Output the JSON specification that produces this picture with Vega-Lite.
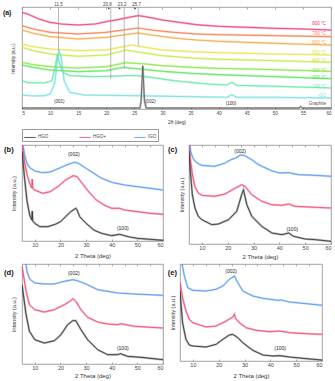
{
"$schema": "https://vega.github.io/schema/vega-lite/v6.json",
"padding": {"left": 2, "top": 1, "right": 1, "bottom": 1},
"columns": 1,
"align": "none",
"spacing": 3,
"resolve": {"scale": {"color": "independent"}, "legend": {"color": "independent"}},
"datasets": {
"a": [
{"s":"800","x":5,"y":96.5},{"s":"800","x":6,"y":95},{"s":"800","x":8,"y":90},{"s":"800","x":10,"y":86.7},{"s":"800","x":12,"y":85},{"s":"800","x":15,"y":84},{"s":"800","x":18,"y":85},{"s":"800","x":20,"y":87.3},{"s":"800","x":22,"y":89.3},{"s":"800","x":24,"y":91.7},{"s":"800","x":25.7,"y":93.3},{"s":"800","x":27,"y":92.3},{"s":"800","x":30,"y":89},{"s":"800","x":33,"y":86.7},{"s":"800","x":36,"y":84.3},{"s":"800","x":40,"y":82.7},{"s":"800","x":45,"y":81.7},{"s":"800","x":50,"y":80.7},{"s":"800","x":55,"y":80},{"s":"800","x":60,"y":79},
{"s":"700","x":5,"y":83.3},{"s":"700","x":7,"y":80},{"s":"700","x":10,"y":76.7},{"s":"700","x":15,"y":75},{"s":"700","x":20,"y":76.7},{"s":"700","x":23,"y":79},{"s":"700","x":25.7,"y":81},{"s":"700","x":28,"y":79},{"s":"700","x":32,"y":76.7},{"s":"700","x":36,"y":75},{"s":"700","x":40,"y":74.3},{"s":"700","x":50,"y":73.3},{"s":"700","x":60,"y":72.3},
{"s":"600","x":5,"y":79},{"s":"600","x":7,"y":75.7},{"s":"600","x":10,"y":72.3},{"s":"600","x":15,"y":70},{"s":"600","x":20,"y":71.7},{"s":"600","x":23,"y":74},{"s":"600","x":25.7,"y":76},{"s":"600","x":28,"y":74},{"s":"600","x":32,"y":71},{"s":"600","x":36,"y":69},{"s":"600","x":40,"y":67.7},{"s":"600","x":50,"y":65.7},{"s":"600","x":60,"y":64},
{"s":"500","x":5,"y":65},{"s":"500","x":7,"y":62.3},{"s":"500","x":10,"y":60},{"s":"500","x":15,"y":58.3},{"s":"500","x":20,"y":59},{"s":"500","x":23,"y":62.3},{"s":"500","x":24.5,"y":64},{"s":"500","x":27,"y":61.7},{"s":"500","x":30,"y":59},{"s":"500","x":35,"y":57.3},{"s":"500","x":40,"y":56.3},{"s":"500","x":50,"y":55},{"s":"500","x":60,"y":54},
{"s":"400","x":5,"y":61.7},{"s":"400","x":7,"y":58.3},{"s":"400","x":10,"y":55},{"s":"400","x":15,"y":52.7},{"s":"400","x":20,"y":54},{"s":"400","x":22,"y":56.7},{"s":"400","x":23.5,"y":59},{"s":"400","x":26,"y":56.7},{"s":"400","x":30,"y":53.3},{"s":"400","x":35,"y":51},{"s":"400","x":40,"y":49.7},{"s":"400","x":50,"y":48.3},{"s":"400","x":60,"y":46.7},
{"s":"300","x":5,"y":46.7},{"s":"300","x":7,"y":44.3},{"s":"300","x":10,"y":42.3},{"s":"300","x":15,"y":41},{"s":"300","x":20,"y":42.3},{"s":"300","x":23.5,"y":46.3},{"s":"300","x":27,"y":45},{"s":"300","x":30,"y":43.3},{"s":"300","x":35,"y":41.7},{"s":"300","x":40,"y":40.7},{"s":"300","x":50,"y":39.3},{"s":"300","x":60,"y":37.7},
{"s":"200","x":5,"y":44},{"s":"200","x":7,"y":41.7},{"s":"200","x":10,"y":39},{"s":"200","x":15,"y":37.3},{"s":"200","x":20,"y":38.3},{"s":"200","x":23,"y":41.7},{"s":"200","x":26,"y":40},{"s":"200","x":30,"y":37.7},{"s":"200","x":35,"y":35.7},{"s":"200","x":40,"y":34.3},{"s":"200","x":50,"y":32.3},{"s":"200","x":60,"y":30.3},
{"s":"100","x":5,"y":28.3},{"s":"100","x":6,"y":26.3},{"s":"100","x":9,"y":26},{"s":"100","x":10.3,"y":28.3},{"s":"100","x":10.9,"y":41.7},{"s":"100","x":11.3,"y":55},{"s":"100","x":11.7,"y":45},{"s":"100","x":12.3,"y":36.7},{"s":"100","x":13.5,"y":33.3},{"s":"100","x":18,"y":32.3},{"s":"100","x":22,"y":33},{"s":"100","x":25,"y":33.7},{"s":"100","x":28,"y":31.7},{"s":"100","x":32,"y":28.3},{"s":"100","x":38,"y":25},{"s":"100","x":41.5,"y":24},{"s":"100","x":42.3,"y":26.7},{"s":"100","x":43.3,"y":23.7},{"s":"100","x":50,"y":22.7},{"s":"100","x":60,"y":21},
{"s":"GO","x":5,"y":14},{"s":"GO","x":7,"y":13},{"s":"GO","x":9,"y":13.3},{"s":"GO","x":10,"y":15},{"s":"GO","x":10.8,"y":25},{"s":"GO","x":11.3,"y":48.3},{"s":"GO","x":11.6,"y":59},{"s":"GO","x":12,"y":50},{"s":"GO","x":12.5,"y":28.3},{"s":"GO","x":13.5,"y":16.7},{"s":"GO","x":16,"y":14},{"s":"GO","x":25,"y":13.3},{"s":"GO","x":35,"y":12.3},{"s":"GO","x":41.5,"y":11.7},{"s":"GO","x":42.3,"y":14.3},{"s":"GO","x":43.3,"y":11.7},{"s":"GO","x":50,"y":11.7},{"s":"GO","x":60,"y":11},
{"s":"Graphite","x":5,"y":1},{"s":"Graphite","x":26,"y":1},{"s":"Graphite","x":26.2,"y":8},{"s":"Graphite","x":26.5,"y":43.3},{"s":"Graphite","x":26.8,"y":8},{"s":"Graphite","x":27.1,"y":1},{"s":"Graphite","x":54.3,"y":1},{"s":"Graphite","x":54.6,"y":2.5},{"s":"Graphite","x":54.9,"y":1},{"s":"Graphite","x":60,"y":1}
],
"al": [
{"s":"800","x":59.1,"y":84.7,"t":"800 °C"},{"s":"700","x":59.1,"y":74.7,"t":"700 °C"},{"s":"600","x":59.1,"y":66.3,"t":"600 °C"},{"s":"500","x":59.1,"y":56.3,"t":"500 °C"},{"s":"400","x":59.1,"y":48,"t":"400 °C"},{"s":"300","x":59.1,"y":38.5,"t":"300 °C"},{"s":"200","x":59.1,"y":31,"t":"200 °C"},{"s":"100","x":59.1,"y":22.5,"t":"100 °C"},{"s":"GO","x":59.1,"y":13,"t":"GO"},{"s":"Graphite","x":59.1,"y":5,"t":"Graphite"}
],
"ar": [{"x":11.5,"y":102,"y2":59},{"x":20.8,"y":102,"y2":29.7},{"x":23.2,"y":102,"y2":40},{"x":25.7,"y":102,"y2":63.3}],
"at": [{"x":11.5,"y":104.5,"t":"11.5"},{"x":20.2,"y":104.5,"t":"20.8"},{"x":22.8,"y":104.5,"t":"23.2"},{"x":25.4,"y":104.5,"t":"25.7"}],
"aw": [{"x":20.5,"y":100.6},{"x":22.4,"y":100.6},{"x":25.2,"y":100.6}],
"aa": [{"x":11.65,"y":7,"t":"(001)"},{"x":27.85,"y":7,"t":"(002)"},{"x":42.2,"y":5.5,"t":"(100)"}],
"p": [
{"p":"b","s":"IGO","x":5,"y":100},{"p":"b","s":"IGO","x":5.5,"y":94},{"p":"b","s":"IGO","x":6,"y":86},{"p":"b","s":"IGO","x":7,"y":77.3},{"p":"b","s":"IGO","x":8,"y":73.3},{"p":"b","s":"IGO","x":10,"y":70},{"p":"b","s":"IGO","x":13,"y":68.3},{"p":"b","s":"IGO","x":16,"y":69},{"p":"b","s":"IGO","x":20,"y":73.3},{"p":"b","s":"IGO","x":23,"y":76.7},{"p":"b","s":"IGO","x":25.5,"y":78.7},{"p":"b","s":"IGO","x":27,"y":77.7},{"p":"b","s":"IGO","x":30,"y":72.7},{"p":"b","s":"IGO","x":33,"y":67.7},{"p":"b","s":"IGO","x":36,"y":62.7},{"p":"b","s":"IGO","x":40,"y":58.7},{"p":"b","s":"IGO","x":45,"y":56},{"p":"b","s":"IGO","x":50,"y":54.3},{"p":"b","s":"IGO","x":55,"y":52.7},{"p":"b","s":"IGO","x":60,"y":51},
{"p":"b","s":"HGO+","x":5,"y":96},{"p":"b","s":"HGO+","x":6,"y":79},{"p":"b","s":"HGO+","x":7,"y":66},{"p":"b","s":"HGO+","x":8,"y":57.7},{"p":"b","s":"HGO+","x":8.8,"y":53},{"p":"b","s":"HGO+","x":9,"y":62},{"p":"b","s":"HGO+","x":9.2,"y":52.5},{"p":"b","s":"HGO+","x":10,"y":51},{"p":"b","s":"HGO+","x":13,"y":47.7},{"p":"b","s":"HGO+","x":16,"y":49.3},{"p":"b","s":"HGO+","x":19,"y":54.3},{"p":"b","s":"HGO+","x":22,"y":61},{"p":"b","s":"HGO+","x":25,"y":65.3},{"p":"b","s":"HGO+","x":26.5,"y":64.3},{"p":"b","s":"HGO+","x":28,"y":59.3},{"p":"b","s":"HGO+","x":31,"y":49.3},{"p":"b","s":"HGO+","x":34,"y":41},{"p":"b","s":"HGO+","x":37,"y":36},{"p":"b","s":"HGO+","x":40,"y":32.7},{"p":"b","s":"HGO+","x":43,"y":32.7},{"p":"b","s":"HGO+","x":45,"y":31},{"p":"b","s":"HGO+","x":50,"y":29.3},{"p":"b","s":"HGO+","x":55,"y":27.7},{"p":"b","s":"HGO+","x":60,"y":26.7},
{"p":"b","s":"HGO","x":5,"y":89.3},{"p":"b","s":"HGO","x":6,"y":62.7},{"p":"b","s":"HGO","x":7,"y":39.3},{"p":"b","s":"HGO","x":8,"y":26},{"p":"b","s":"HGO","x":8.8,"y":21},{"p":"b","s":"HGO","x":9,"y":30},{"p":"b","s":"HGO","x":9.2,"y":20},{"p":"b","s":"HGO","x":10,"y":17.7},{"p":"b","s":"HGO","x":12,"y":14.3},{"p":"b","s":"HGO","x":15,"y":14.3},{"p":"b","s":"HGO","x":18,"y":16.7},{"p":"b","s":"HGO","x":20,"y":19.3},{"p":"b","s":"HGO","x":22,"y":24.3},{"p":"b","s":"HGO","x":24,"y":29.3},{"p":"b","s":"HGO","x":26,"y":32.7},{"p":"b","s":"HGO","x":26.5,"y":31},{"p":"b","s":"HGO","x":27.5,"y":24.3},{"p":"b","s":"HGO","x":30,"y":17.7},{"p":"b","s":"HGO","x":33,"y":11},{"p":"b","s":"HGO","x":36,"y":7.7},{"p":"b","s":"HGO","x":40,"y":5.3},{"p":"b","s":"HGO","x":43,"y":6.7},{"p":"b","s":"HGO","x":44.5,"y":5.7},{"p":"b","s":"HGO","x":47,"y":4},{"p":"b","s":"HGO","x":50,"y":2.7},{"p":"b","s":"HGO","x":55,"y":1.7},{"p":"b","s":"HGO","x":60,"y":0.7},
{"p":"c","s":"IGO","x":5,"y":104},{"p":"c","s":"IGO","x":5.7,"y":92},{"p":"c","s":"IGO","x":6.5,"y":86},{"p":"c","s":"IGO","x":7.3,"y":83},{"p":"c","s":"IGO","x":8.5,"y":80.5},{"p":"c","s":"IGO","x":10,"y":78.7},{"p":"c","s":"IGO","x":15,"y":77.7},{"p":"c","s":"IGO","x":19,"y":81},{"p":"c","s":"IGO","x":21,"y":84},{"p":"c","s":"IGO","x":23,"y":86},{"p":"c","s":"IGO","x":25,"y":89},{"p":"c","s":"IGO","x":26.5,"y":88.5},{"p":"c","s":"IGO","x":29.3,"y":84.3},{"p":"c","s":"IGO","x":31,"y":81},{"p":"c","s":"IGO","x":33.2,"y":77.7},{"p":"c","s":"IGO","x":37,"y":73.3},{"p":"c","s":"IGO","x":40,"y":71},{"p":"c","s":"IGO","x":43.5,"y":71.3},{"p":"c","s":"IGO","x":47.4,"y":69.3},{"p":"c","s":"IGO","x":54,"y":68.7},{"p":"c","s":"IGO","x":60,"y":67.7},
{"p":"c","s":"HGO+","x":5,"y":100},{"p":"c","s":"HGO+","x":5.5,"y":85},{"p":"c","s":"HGO+","x":6.3,"y":70},{"p":"c","s":"HGO+","x":7.3,"y":57},{"p":"c","s":"HGO+","x":8.6,"y":51},{"p":"c","s":"HGO+","x":10,"y":48.7},{"p":"c","s":"HGO+","x":15,"y":47.7},{"p":"c","s":"HGO+","x":19,"y":50},{"p":"c","s":"HGO+","x":23,"y":56},{"p":"c","s":"HGO+","x":25.4,"y":59.3},{"p":"c","s":"HGO+","x":26.7,"y":57.7},{"p":"c","s":"HGO+","x":29.3,"y":49.3},{"p":"c","s":"HGO+","x":33.2,"y":42.7},{"p":"c","s":"HGO+","x":37,"y":39.3},{"p":"c","s":"HGO+","x":41,"y":38.7},{"p":"c","s":"HGO+","x":43.6,"y":40},{"p":"c","s":"HGO+","x":46,"y":37.7},{"p":"c","s":"HGO+","x":54,"y":36.7},{"p":"c","s":"HGO+","x":60,"y":36},
{"p":"c","s":"HGO","x":5,"y":92.7},{"p":"c","s":"HGO","x":5.5,"y":72.7},{"p":"c","s":"HGO","x":6.3,"y":49.3},{"p":"c","s":"HGO","x":7.3,"y":36},{"p":"c","s":"HGO","x":8.6,"y":27.7},{"p":"c","s":"HGO","x":10,"y":24.3},{"p":"c","s":"HGO","x":13.8,"y":19.3},{"p":"c","s":"HGO","x":16.4,"y":20},{"p":"c","s":"HGO","x":20.3,"y":24.3},{"p":"c","s":"HGO","x":23.5,"y":32.7},{"p":"c","s":"HGO","x":25.4,"y":49.3},{"p":"c","s":"HGO","x":26.1,"y":54.3},{"p":"c","s":"HGO","x":27.4,"y":39.3},{"p":"c","s":"HGO","x":29.3,"y":27.7},{"p":"c","s":"HGO","x":33.2,"y":17.7},{"p":"c","s":"HGO","x":37.1,"y":11},{"p":"c","s":"HGO","x":41,"y":9.3},{"p":"c","s":"HGO","x":43.6,"y":11},{"p":"c","s":"HGO","x":45.5,"y":7.7},{"p":"c","s":"HGO","x":50,"y":5},{"p":"c","s":"HGO","x":54,"y":4.3},{"p":"c","s":"HGO","x":60,"y":2.7},
{"p":"d","s":"IGO","x":5,"y":115},{"p":"d","s":"IGO","x":6.5,"y":100},{"p":"d","s":"IGO","x":7,"y":92},{"p":"d","s":"IGO","x":8,"y":85},{"p":"d","s":"IGO","x":10,"y":81},{"p":"d","s":"IGO","x":13.7,"y":80},{"p":"d","s":"IGO","x":17.6,"y":80},{"p":"d","s":"IGO","x":21.5,"y":82.7},{"p":"d","s":"IGO","x":24.8,"y":84.3},{"p":"d","s":"IGO","x":26.7,"y":83.3},{"p":"d","s":"IGO","x":30.6,"y":79.3},{"p":"d","s":"IGO","x":34.5,"y":74.3},{"p":"d","s":"IGO","x":38.4,"y":72.7},{"p":"d","s":"IGO","x":42.3,"y":71},{"p":"d","s":"IGO","x":48.8,"y":70},{"p":"d","s":"IGO","x":60,"y":68.7},
{"p":"d","s":"HGO+","x":5,"y":97.7},{"p":"d","s":"HGO+","x":6.6,"y":72.7},{"p":"d","s":"HGO+","x":7.9,"y":59.3},{"p":"d","s":"HGO+","x":10,"y":54.3},{"p":"d","s":"HGO+","x":13.7,"y":52},{"p":"d","s":"HGO+","x":17.6,"y":54.3},{"p":"d","s":"HGO+","x":21.5,"y":59.3},{"p":"d","s":"HGO+","x":24.1,"y":63.3},{"p":"d","s":"HGO+","x":24.8,"y":65.3},{"p":"d","s":"HGO+","x":26,"y":62.7},{"p":"d","s":"HGO+","x":28,"y":54.3},{"p":"d","s":"HGO+","x":30.6,"y":46.7},{"p":"d","s":"HGO+","x":34.5,"y":42},{"p":"d","s":"HGO+","x":38.4,"y":40},{"p":"d","s":"HGO+","x":42.3,"y":39.3},{"p":"d","s":"HGO+","x":43.6,"y":40.3},{"p":"d","s":"HGO+","x":48.8,"y":37.7},{"p":"d","s":"HGO+","x":60,"y":36},
{"p":"d","s":"HGO","x":5,"y":79.3},{"p":"d","s":"HGO","x":6.6,"y":49.3},{"p":"d","s":"HGO","x":7.9,"y":32.7},{"p":"d","s":"HGO","x":10,"y":24.3},{"p":"d","s":"HGO","x":13.7,"y":21},{"p":"d","s":"HGO","x":17.6,"y":23.3},{"p":"d","s":"HGO","x":20.2,"y":29.3},{"p":"d","s":"HGO","x":22.8,"y":39.3},{"p":"d","s":"HGO","x":24.8,"y":43.3},{"p":"d","s":"HGO","x":26,"y":43.3},{"p":"d","s":"HGO","x":28,"y":34.3},{"p":"d","s":"HGO","x":30.6,"y":24.3},{"p":"d","s":"HGO","x":34.5,"y":14.3},{"p":"d","s":"HGO","x":38.4,"y":9.3},{"p":"d","s":"HGO","x":42.3,"y":9.3},{"p":"d","s":"HGO","x":43.4,"y":10.3},{"p":"d","s":"HGO","x":46.2,"y":7.7},{"p":"d","s":"HGO","x":51.4,"y":6.7},{"p":"d","s":"HGO","x":60,"y":4.3},
{"p":"e","s":"IGO","x":5,"y":110},{"p":"e","s":"IGO","x":5.8,"y":97},{"p":"e","s":"IGO","x":6.7,"y":85},{"p":"e","s":"IGO","x":8,"y":73.3},{"p":"e","s":"IGO","x":10,"y":70.7},{"p":"e","s":"IGO","x":15.1,"y":70},{"p":"e","s":"IGO","x":19,"y":71.7},{"p":"e","s":"IGO","x":21.6,"y":75},{"p":"e","s":"IGO","x":24.1,"y":81.7},{"p":"e","s":"IGO","x":26.1,"y":85},{"p":"e","s":"IGO","x":27.4,"y":78.3},{"p":"e","s":"IGO","x":29.3,"y":70},{"p":"e","s":"IGO","x":33.2,"y":65},{"p":"e","s":"IGO","x":37.1,"y":62.7},{"p":"e","s":"IGO","x":42.9,"y":60.7},{"p":"e","s":"IGO","x":44.2,"y":61},{"p":"e","s":"IGO","x":47.4,"y":59},{"p":"e","s":"IGO","x":54,"y":57.3},{"p":"e","s":"IGO","x":60,"y":55.7},
{"p":"e","s":"HGO+","x":5,"y":78.3},{"p":"e","s":"HGO+","x":6,"y":63.3},{"p":"e","s":"HGO+","x":7.3,"y":50},{"p":"e","s":"HGO+","x":8.6,"y":41.7},{"p":"e","s":"HGO+","x":10,"y":38.3},{"p":"e","s":"HGO+","x":15.1,"y":34},{"p":"e","s":"HGO+","x":19,"y":35},{"p":"e","s":"HGO+","x":22.9,"y":40},{"p":"e","s":"HGO+","x":25.5,"y":44},{"p":"e","s":"HGO+","x":26.1,"y":47},{"p":"e","s":"HGO+","x":26.4,"y":43},{"p":"e","s":"HGO+","x":28,"y":38.3},{"p":"e","s":"HGO+","x":30.6,"y":33.3},{"p":"e","s":"HGO+","x":34.5,"y":30.7},{"p":"e","s":"HGO+","x":39.7,"y":29.3},{"p":"e","s":"HGO+","x":43.6,"y":30},{"p":"e","s":"HGO+","x":47.4,"y":28.3},{"p":"e","s":"HGO+","x":54,"y":27.3},{"p":"e","s":"HGO+","x":60,"y":26.7},
{"p":"e","s":"HGO","x":5,"y":70},{"p":"e","s":"HGO","x":6,"y":38},{"p":"e","s":"HGO","x":7.3,"y":21.7},{"p":"e","s":"HGO","x":8.6,"y":16},{"p":"e","s":"HGO","x":10,"y":15},{"p":"e","s":"HGO","x":15.1,"y":14},{"p":"e","s":"HGO","x":19,"y":16.7},{"p":"e","s":"HGO","x":21.6,"y":21.7},{"p":"e","s":"HGO","x":24.1,"y":26},{"p":"e","s":"HGO","x":25.4,"y":26.7},{"p":"e","s":"HGO","x":27.4,"y":23.3},{"p":"e","s":"HGO","x":29.3,"y":18.3},{"p":"e","s":"HGO","x":33.2,"y":10.7},{"p":"e","s":"HGO","x":37.1,"y":6},{"p":"e","s":"HGO","x":41,"y":5},{"p":"e","s":"HGO","x":43.6,"y":5.3},{"p":"e","s":"HGO","x":47.4,"y":4},{"p":"e","s":"HGO","x":54,"y":2.3},{"p":"e","s":"HGO","x":60,"y":1}
],
"pl": [
{"p":"b","x":25.2,"y":86.7,"t":"(002)"},{"p":"b","x":44.3,"y":12.7,"t":"(100)"},
{"p":"c","x":24.8,"y":93.3,"t":"(002)"},{"p":"c","x":45,"y":15.3,"t":"(100)"},
{"p":"d","x":25.2,"y":91,"t":"(002)"},{"p":"d","x":44.3,"y":16,"t":"(100)"},
{"p":"e","x":24.8,"y":90,"t":"(002)"},{"p":"e","x":43.8,"y":13.3,"t":"(100)"}
],
"pt": [
{"p":"a","x":1.6,"y":96,"t":"(a)"},
{"p":"b","x":-2,"y":91,"t":"(b)"},
{"p":"c","x":-3.1,"y":94,"t":"(c)"},
{"p":"d","x":-2,"y":91,"t":"(d)"},
{"p":"e","x":0.3,"y":88,"t":"(e)"}
]
},
"concat": [
{
"width": 309, "height": 102,
"resolve": {"axis": {"x": "independent"}},
"layer": [
{"data": {"name": "a"}, "mark": {"type": "line", "strokeWidth": 2.2, "opacity": 0.35, "clip": true},
 "encoding": {
  "x": {"field": "x", "type": "quantitative", "scale": {"domain": [5, 60], "nice": false}, "axis": {"title": "2θ (deg)", "labelFontSize": 4.5, "titleFontSize": 4.8, "titlePadding": 5}},
  "y": {"field": "y", "type": "quantitative", "scale": {"domain": [0, 102], "nice": false, "zero": false}, "axis": {"title": "Intensity (a.u.)", "titleFontSize": 4.8, "titlePadding": 7}},
  "color": {"field": "s", "type": "nominal", "scale": {"domain": ["800","700","600","500","400","300","200","100","GO","Graphite"], "range": ["#f2326e","#f5784a","#f3a53a","#e6e343","#c2e83a","#82e63c","#4fe452","#5ee6a2","#6fdede","#555555"]}, "legend": null}
 }},
{"data": {"name": "a"}, "mark": {"type": "line", "strokeWidth": 0.8, "clip": true},
 "encoding": {
  "x": {"field": "x", "type": "quantitative", "axis": {"orient": "top", "labels": false, "title": null}},
  "y": {"field": "y", "type": "quantitative"},
  "color": {"field": "s", "type": "nominal", "legend": null}
 }},
{"data": {"name": "ar"}, "mark": {"type": "rule", "color": "#9a9a9a", "strokeWidth": 0.7},
 "encoding": {"x": {"field": "x", "type": "quantitative", "axis": null}, "y": {"field": "y", "type": "quantitative"}, "y2": {"field": "y2"}}},
{"data": {"name": "aw"}, "mark": {"type": "point", "shape": "triangle-right", "size": 5, "filled": true, "color": "#444", "opacity": 1},
 "encoding": {"x": {"field": "x", "type": "quantitative", "axis": null}, "y": {"field": "y", "type": "quantitative"}}},
{"data": {"name": "at"}, "mark": {"type": "text", "fontSize": 4.5, "color": "#444", "baseline": "middle"},
 "encoding": {"x": {"field": "x", "type": "quantitative", "axis": null}, "y": {"field": "y", "type": "quantitative"}, "text": {"field": "t"}}},
{"data": {"name": "aa"}, "mark": {"type": "text", "fontSize": 4.5, "color": "#333", "baseline": "middle"},
 "encoding": {"x": {"field": "x", "type": "quantitative", "axis": null}, "y": {"field": "y", "type": "quantitative"}, "text": {"field": "t"}}},
{"data": {"name": "al"}, "mark": {"type": "text", "fontSize": 4.5, "align": "right", "baseline": "middle"},
 "encoding": {"x": {"field": "x", "type": "quantitative", "axis": null}, "y": {"field": "y", "type": "quantitative"}, "text": {"field": "t"},
  "color": {"field": "s", "type": "nominal", "legend": null}}},
{"data": {"name": "pt"}, "transform": [{"filter": "datum.p==='a'"}], "mark": {"type": "text", "fontSize": 7, "fontWeight": "bold", "align": "left", "baseline": "middle", "color": "#111"},
 "encoding": {"x": {"field": "x", "type": "quantitative", "axis": null}, "y": {"field": "y", "type": "quantitative"}, "text": {"field": "t"}}}
]
},
{
"hconcat": [
{
"width": 141, "height": 96,
"resolve": {"axis": {"x": "independent"}},
"layer": [
{"data": {"name": "p"}, "transform": [{"filter": "datum.p==='b'"}], "mark": {"type": "line", "strokeWidth": 2.2, "opacity": 0.35, "clip": true},
 "encoding": {
  "x": {"field": "x", "type": "quantitative", "scale": {"domain": [5, 60], "nice": false}, "axis": {"title": "2 Theta (deg)", "titlePadding": 5}},
  "y": {"field": "y", "type": "quantitative", "scale": {"domain": [0, 96], "nice": false, "zero": false}, "axis": {"title": "Intensity (a.u.)", "titlePadding": 6}},
  "color": {"field": "s", "type": "nominal", "scale": {"domain": ["HGO","HGO+","IGO"], "range": ["#2b2b2b","#f0406a","#4d94ee"]},
   "legend": {"orient": "top", "direction": "horizontal", "title": null, "symbolType": "stroke", "symbolSize": 130, "symbolStrokeWidth": 0.8, "symbolOpacity": 1, "labelFontSize": 4.5, "labelColor": "#444", "strokeColor": "#999", "padding": 1.5, "columns": 3, "gridAlign": "all", "columnPadding": 26, "offset": 3, "labelOffset": 1.5}}
 }},
{"data": {"name": "p"}, "transform": [{"filter": "datum.p==='b'"}], "mark": {"type": "line", "strokeWidth": 0.8, "clip": true},
 "encoding": {"x": {"field": "x", "type": "quantitative", "axis": {"orient": "top", "labels": false, "title": null, "values": [10,15,20,25,30,35,40,45,50,55]}}, "y": {"field": "y", "type": "quantitative"}, "color": {"field": "s", "type": "nominal"}}},
{"data": {"name": "pl"}, "transform": [{"filter": "datum.p==='b'"}], "mark": {"type": "text", "fontSize": 5, "color": "#222", "baseline": "middle"},
 "encoding": {"x": {"field": "x", "type": "quantitative", "axis": null}, "y": {"field": "y", "type": "quantitative"}, "text": {"field": "t"}}},
{"data": {"name": "pt"}, "transform": [{"filter": "datum.p==='b'"}], "mark": {"type": "text", "fontSize": 7.5, "fontWeight": "bold", "align": "left", "baseline": "middle", "color": "#111"},
 "encoding": {"x": {"field": "x", "type": "quantitative", "axis": null}, "y": {"field": "y", "type": "quantitative"}, "text": {"field": "t"}}}
]
},
{
"width": 142, "height": 99,
"resolve": {"axis": {"x": "independent"}},
"layer": [
{"data": {"name": "p"}, "transform": [{"filter": "datum.p==='c'"}], "mark": {"type": "line", "strokeWidth": 2.2, "opacity": 0.35, "clip": true},
 "encoding": {
  "x": {"field": "x", "type": "quantitative", "scale": {"domain": [5, 60], "nice": false}, "axis": {"title": "2 Theta (deg)", "titlePadding": 3}},
  "y": {"field": "y", "type": "quantitative", "scale": {"domain": [0, 99], "nice": false, "zero": false}, "axis": {"title": "Intensity (a.u.)", "titlePadding": 5}},
  "color": {"field": "s", "type": "nominal", "scale": {"domain": ["HGO","HGO+","IGO"], "range": ["#2b2b2b","#f0406a","#4d94ee"]}, "legend": null}
 }},
{"data": {"name": "p"}, "transform": [{"filter": "datum.p==='c'"}], "mark": {"type": "line", "strokeWidth": 0.8, "clip": true},
 "encoding": {"x": {"field": "x", "type": "quantitative", "axis": {"orient": "top", "labels": false, "title": null, "values": [10,15,20,25,30,35,40,45,50,55]}}, "y": {"field": "y", "type": "quantitative"}, "color": {"field": "s", "type": "nominal", "legend": null}}},
{"data": {"name": "pl"}, "transform": [{"filter": "datum.p==='c'"}], "mark": {"type": "text", "fontSize": 5, "color": "#222", "baseline": "middle"},
 "encoding": {"x": {"field": "x", "type": "quantitative", "axis": null}, "y": {"field": "y", "type": "quantitative"}, "text": {"field": "t"}}},
{"data": {"name": "pt"}, "transform": [{"filter": "datum.p==='c'"}], "mark": {"type": "text", "fontSize": 7.5, "fontWeight": "bold", "align": "left", "baseline": "middle", "color": "#111"},
 "encoding": {"x": {"field": "x", "type": "quantitative", "axis": null}, "y": {"field": "y", "type": "quantitative"}, "text": {"field": "t"}}}
]
}
],
"spacing": 3,
"resolve": {"scale": {"color": "independent"}, "legend": {"color": "independent"}}
},
{
"hconcat": [
{
"width": 141, "height": 100,
"resolve": {"axis": {"x": "independent"}},
"layer": [
{"data": {"name": "p"}, "transform": [{"filter": "datum.p==='d'"}], "mark": {"type": "line", "strokeWidth": 2.2, "opacity": 0.35, "clip": true},
 "encoding": {
  "x": {"field": "x", "type": "quantitative", "scale": {"domain": [5, 60], "nice": false}, "axis": {"title": "2 Theta (deg)", "titlePadding": 2}},
  "y": {"field": "y", "type": "quantitative", "scale": {"domain": [0, 100], "nice": false, "zero": false}, "axis": {"title": "Intensity (a.u.)", "titlePadding": 6}},
  "color": {"field": "s", "type": "nominal", "scale": {"domain": ["HGO","HGO+","IGO"], "range": ["#2b2b2b","#f0406a","#4d94ee"]}, "legend": null}
 }},
{"data": {"name": "p"}, "transform": [{"filter": "datum.p==='d'"}], "mark": {"type": "line", "strokeWidth": 0.8, "clip": true},
 "encoding": {"x": {"field": "x", "type": "quantitative", "axis": {"orient": "top", "labels": false, "title": null, "values": [10,15,20,25,30,35,40,45,50,55]}}, "y": {"field": "y", "type": "quantitative"}, "color": {"field": "s", "type": "nominal", "legend": null}}},
{"data": {"name": "pl"}, "transform": [{"filter": "datum.p==='d'"}], "mark": {"type": "text", "fontSize": 5, "color": "#222", "baseline": "middle"},
 "encoding": {"x": {"field": "x", "type": "quantitative", "axis": null}, "y": {"field": "y", "type": "quantitative"}, "text": {"field": "t"}}},
{"data": {"name": "pt"}, "transform": [{"filter": "datum.p==='d'"}], "mark": {"type": "text", "fontSize": 7.5, "fontWeight": "bold", "align": "left", "baseline": "middle", "color": "#111"},
 "encoding": {"x": {"field": "x", "type": "quantitative", "axis": null}, "y": {"field": "y", "type": "quantitative"}, "text": {"field": "t"}}}
]
},
{
"width": 142, "height": 97,
"resolve": {"axis": {"x": "independent"}},
"layer": [
{"data": {"name": "p"}, "transform": [{"filter": "datum.p==='e'"}], "mark": {"type": "line", "strokeWidth": 2.2, "opacity": 0.35, "clip": true},
 "encoding": {
  "x": {"field": "x", "type": "quantitative", "scale": {"domain": [5, 60], "nice": false}, "axis": {"title": "2 Theta (deg)", "titlePadding": 5}},
  "y": {"field": "y", "type": "quantitative", "scale": {"domain": [0, 97], "nice": false, "zero": false}, "axis": {"title": "Intensity (a.u.)", "titlePadding": 5}},
  "color": {"field": "s", "type": "nominal", "scale": {"domain": ["HGO","HGO+","IGO"], "range": ["#2b2b2b","#f0406a","#4d94ee"]}, "legend": null}
 }},
{"data": {"name": "p"}, "transform": [{"filter": "datum.p==='e'"}], "mark": {"type": "line", "strokeWidth": 0.8, "clip": true},
 "encoding": {"x": {"field": "x", "type": "quantitative", "axis": {"orient": "top", "labels": false, "title": null, "values": [10,15,20,25,30,35,40,45,50,55]}}, "y": {"field": "y", "type": "quantitative"}, "color": {"field": "s", "type": "nominal", "legend": null}}},
{"data": {"name": "pl"}, "transform": [{"filter": "datum.p==='e'"}], "mark": {"type": "text", "fontSize": 5, "color": "#222", "baseline": "middle"},
 "encoding": {"x": {"field": "x", "type": "quantitative", "axis": null}, "y": {"field": "y", "type": "quantitative"}, "text": {"field": "t"}}},
{"data": {"name": "pt"}, "transform": [{"filter": "datum.p==='e'"}], "mark": {"type": "text", "fontSize": 7.5, "fontWeight": "bold", "align": "left", "baseline": "middle", "color": "#111"},
 "encoding": {"x": {"field": "x", "type": "quantitative", "axis": null}, "y": {"field": "y", "type": "quantitative"}, "text": {"field": "t"}}}
]
}
],
"spacing": 3,
"resolve": {"scale": {"color": "independent"}, "legend": {"color": "independent"}}
}
],
"config": {
"font": "Liberation Sans",
"view": {"stroke": "#8a8a8a", "strokeWidth": 0.8},
"axisX": {"values": [10, 20, 30, 40, 50, 60], "tickSize": -2, "tickColor": "#777", "tickWidth": 0.6, "labelFontSize": 5.5, "labelColor": "#444", "labelPadding": 3, "domain": false, "grid": false, "titleFontSize": 6, "titleFontWeight": "normal", "titleColor": "#333"},
"axisY": {"labels": false, "ticks": false, "domain": false, "grid": false, "titleFontSize": 5.5, "titleFontWeight": "normal", "titleColor": "#333"}
}
}
